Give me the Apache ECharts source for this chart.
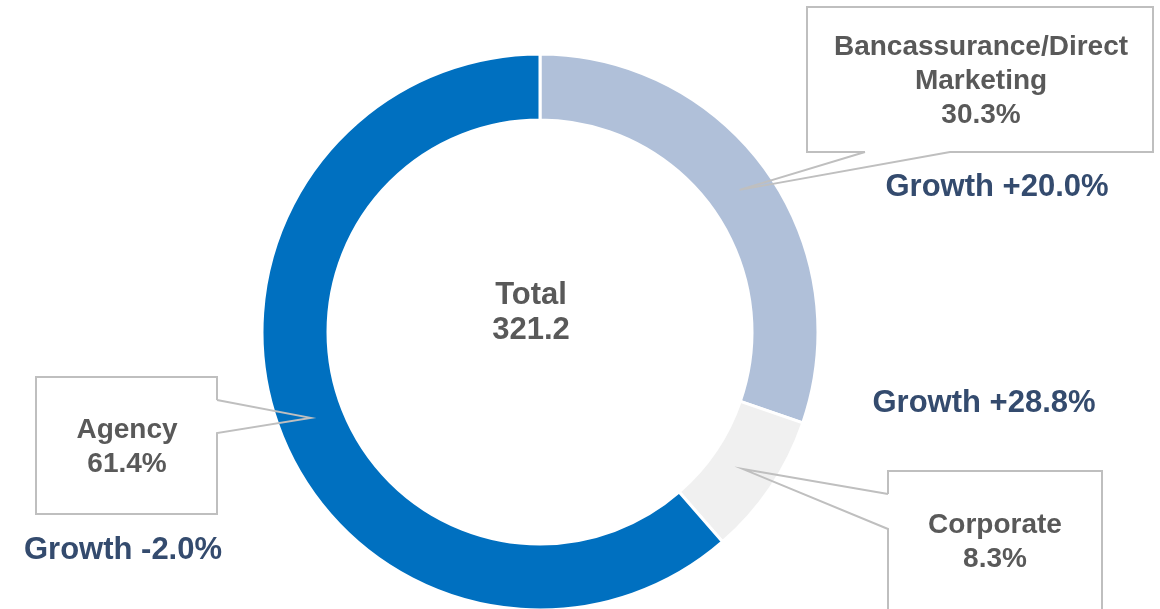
<!DOCTYPE html>
<html>
<head>
<meta charset="utf-8">
<script src="https://cdn.jsdelivr.net/npm/echarts@6/dist/echarts.min.js"></script>
<style>
  html, body { margin: 0; padding: 0; background: #ffffff; }
  #chart { width: 1160px; height: 609px; }
</style>
</head>
<body>
<div id="chart"></div>
<script>
// Channel mix (share of total, %) and year-on-year growth (%)
const channels = ['Bancassurance/Direct Marketing', 'Corporate', 'Agency'];
const shares = [30.3, 8.3, 61.4];
const growth = [20.0, 28.8, -2.0];
const total = 321.2;
const sliceColors = ['#B0C0D9', '#F0F0F0', '#0070C0'];

const FONT = '"Liberation Sans", Arial, sans-serif';
const CX = 540, CY = 332, R_IN = 212, R_OUT = 278;

// Callout boxes: rectangle and the two base points of the pointer
const callouts = [
  { box: [807, 7, 1153, 152], base: [[865, 152], [950, 152]], side: 'bottom', text: [981, 81], growth: [997, 187] },
  { box: [888, 471, 1102, 640], base: [[888, 494], [888, 529]], side: 'left', text: [995, 542], growth: [984, 403] },
  { box: [36, 377, 217, 514], base: [[217, 400], [217, 433]], side: 'right', text: [127, 447], growth: [123, 550] }
];

// Pointer tip sits at the middle of each slice, halfway across the ring
const sum = shares.reduce((a, b) => a + b, 0);
const tips = [];
let acc = 0;
shares.forEach(v => {
  const mid = 90 - (acc + v / 2) / sum * 360;
  const rad = mid * Math.PI / 180;
  const r = (R_IN + R_OUT) / 2;
  tips.push([CX + r * Math.cos(rad), CY - r * Math.sin(rad)]);
  acc += v;
});

function outline(i) {
  const c = callouts[i];
  const [x0, y0, x1, y1] = c.box;
  const [b1, b2] = c.base;
  const t = tips[i];
  if (c.side === 'bottom') {
    return [b1, t, b2, [x1, y1], [x1, y0], [x0, y0], [x0, y1], b1];
  }
  if (c.side === 'left') {
    return [b1, t, b2, [x0, y1], [x1, y1], [x1, y0], [x0, y0], b1];
  }
  return [b1, t, b2, [x1, y1], [x0, y1], [x0, y0], [x1, y0], b1];
}

const chart = echarts.init(document.getElementById('chart'), null, { renderer: 'canvas' });

const outlines = callouts.map((c, i) => ({
  type: 'polyline',
  z: 100,
  silent: true,
  shape: { points: outline(i) },
  style: { stroke: '#BFBFBF', lineWidth: 2, fill: null, lineJoin: 'miter' }
}));

const growthTexts = growth.map((g, i) => ({
  type: 'text',
  z: 101,
  x: callouts[i].growth[0],
  y: callouts[i].growth[1],
  style: {
    text: 'Growth ' + (g >= 0 ? '+' : '') + g.toFixed(1) + '%',
    fill: '#344B6E',
    font: 'bold 31px ' + FONT,
    align: 'center',
    verticalAlign: 'middle'
  }
}));

chart.setOption({
  backgroundColor: '#ffffff',
  animation: false,
  graphic: [
    {
      type: 'text',
      z: 101,
      x: 531,
      y: 313,
      style: {
        text: 'Total\n' + total.toFixed(1),
        fill: '#595959',
        font: 'bold 31px ' + FONT,
        lineHeight: 35,
        align: 'center',
        verticalAlign: 'middle'
      }
    }
  ].concat(outlines, growthTexts),
  series: [
    {
      type: 'pie',
      center: [CX, CY],
      radius: [R_IN, R_OUT],
      startAngle: 90,
      clockwise: true,
      silent: true,
      avoidLabelOverlap: false,
      itemStyle: { borderColor: '#ffffff', borderWidth: 3 },
      data: channels.map((name, i) => ({
        name: name,
        value: shares[i],
        itemStyle: { color: sliceColors[i] }
      })),
      label: {
        show: true,
        position: 'outside',
        color: '#595959',
        fontFamily: FONT,
        fontWeight: 'bold',
        fontSize: 28,
        lineHeight: 34,
        align: 'center',
        formatter: p => p.name.replace('/Direct ', '/Direct\n') + '\n' + p.value.toFixed(1) + '%'
      },
      labelLine: { show: false },
      labelLayout: p => {
        const i = p.dataIndex;
        return {
          x: callouts[i].text[0],
          y: callouts[i].text[1],
          align: 'center',
          verticalAlign: 'middle'
        };
      }
    }
  ]
});
</script>
</body>
</html>
